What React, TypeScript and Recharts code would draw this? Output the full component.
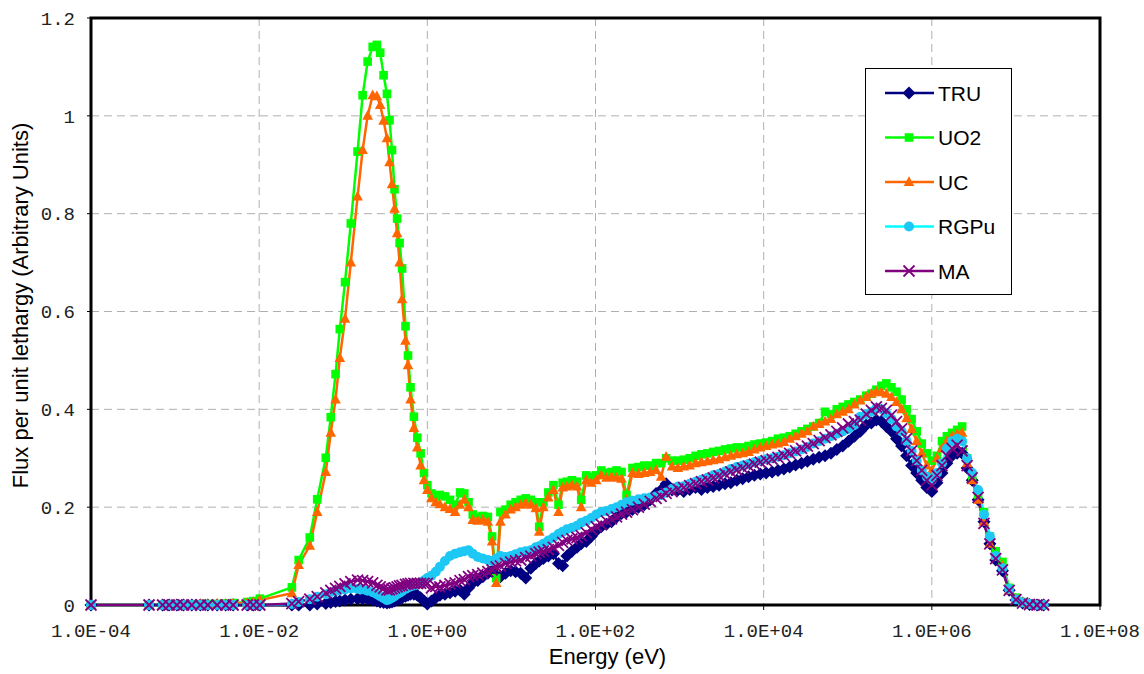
import React from "react";
import { LineChart, Line, XAxis, YAxis, CartesianGrid, ReferenceArea } from "recharts";

// neutron energy group grid (eV), shared by all five spectra
const energy = [
  1e-4, 4.9e-4, 7.1e-4, 8.5e-4, 1.05e-3, 1.26e-3, 1.58e-3, 2.0e-3, 2.45e-3, 3.16e-3, 4.0e-3, 4.9e-3, 7.2e-3, 8.5e-3, 1.02e-2,
  0.0245, 0.0295, 0.04, 0.049, 0.062, 0.071, 0.081, 0.091, 0.105, 0.123, 0.148, 0.17, 0.195, 0.224, 0.251, 0.275, 0.302, 0.331,
  0.355, 0.38, 0.407, 0.437, 0.468, 0.501, 0.55, 0.589, 0.631, 0.692, 0.759, 0.832, 0.912,
  1.0, 1.12, 1.26, 1.41, 1.62, 1.86, 2.14, 2.45, 2.75, 3.09, 3.47, 3.98, 4.57, 5.25, 5.89, 6.6, 7.4, 8.5, 9.8, 11.2,
  12.9, 14.8, 17.0, 19.5, 21.4, 24, 27.5, 31.6, 36.3, 40.7, 45.7, 52.5, 60.3, 67.6, 77.6, 89, 102, 117, 135, 155,
  178, 204, 234, 275, 324, 380, 447, 525, 603, 692, 813, 955,
  1120, 1320, 1550, 1820, 2140, 2510, 2950, 3470, 4070, 4790, 5620, 6610, 7760, 9120, 10700, 12600, 14800, 17400, 20400, 24000,
  28200, 33100, 38900, 45700, 53700, 63100, 74100, 87100, 102000, 120000, 141000, 166000, 191000, 219000, 251000, 288000,
  331000, 380000, 437000, 501000, 575000, 661000, 759000, 871000,
  1.0e6, 1.15e6, 1.32e6, 1.51e6, 1.74e6, 2.0e6, 2.29e6, 2.63e6, 3.02e6, 3.55e6, 4.17e6, 4.9e6, 5.75e6, 6.92e6, 8.32e6,
  1.0e7, 1.2e7, 1.45e7, 1.78e7, 2.14e7,
];

const tru = [
  0, 0, 0, 0, 0, 0, 0, 0, 0, 0, 0, 0, 0, 0, 0,
  0, 0, 0, 0.002, 0.003, 0.005, 0.007, 0.008, 0.01, 0.012, 0.013, 0.013, 0.012, 0.01, 0.008, 0.006, 0.005, 0.004,
  0.005, 0.006, 0.008, 0.01, 0.012, 0.015, 0.018, 0.02, 0.022, 0.022, 0.02, 0.015, 0.008,
  0.002, 0.008, 0.015, 0.02, 0.022, 0.025, 0.028, 0.03, 0.022, 0.035, 0.045, 0.05, 0.058, 0.065, 0.07, 0.06, 0.058, 0.065, 0.07, 0.068,
  0.065, 0.055, 0.075, 0.085, 0.09, 0.095, 0.1, 0.105, 0.085, 0.08, 0.1, 0.11, 0.118, 0.125, 0.13, 0.14, 0.152, 0.16, 0.165, 0.17,
  0.18, 0.187, 0.19, 0.195, 0.2, 0.205, 0.215, 0.228, 0.235, 0.248, 0.235, 0.235,
  0.232, 0.236, 0.24, 0.236, 0.24, 0.242, 0.245, 0.248, 0.25, 0.255, 0.258, 0.262, 0.265, 0.268, 0.27, 0.272, 0.275, 0.278, 0.282, 0.286,
  0.29, 0.294, 0.298, 0.302, 0.305, 0.31, 0.318, 0.325, 0.335, 0.345, 0.355, 0.368, 0.372, 0.378, 0.375, 0.365,
  0.355, 0.34, 0.325, 0.305, 0.285, 0.27, 0.255, 0.24,
  0.232, 0.25, 0.27, 0.29, 0.305, 0.31, 0.31, 0.28, 0.255, 0.215, 0.17, 0.125, 0.092, 0.07, 0.03,
  0.01, 0.004, 0.001, 0, 0,
];

const uo2 = [
  0, 0, 0, 0, 0, 0, 0.001, 0.001, 0.002, 0.002, 0.003, 0.004, 0.006, 0.008, 0.013,
  0.036, 0.092, 0.138, 0.216, 0.301, 0.384, 0.472, 0.564, 0.66, 0.78, 0.927, 1.042, 1.111, 1.141, 1.145, 1.129, 1.083, 1.045,
  0.991, 0.93, 0.85, 0.79, 0.74, 0.688, 0.57, 0.51, 0.445, 0.385, 0.342, 0.31, 0.27,
  0.245, 0.228, 0.222, 0.225, 0.222, 0.215, 0.205, 0.23, 0.228, 0.21, 0.185, 0.18, 0.182, 0.18, 0.14, 0.055, 0.19, 0.195, 0.205, 0.21,
  0.215, 0.218, 0.215, 0.21, 0.16, 0.21, 0.23, 0.245, 0.205, 0.25, 0.252, 0.255, 0.252, 0.215, 0.265, 0.262, 0.265, 0.275, 0.27, 0.272,
  0.275, 0.272, 0.225, 0.28, 0.282, 0.285, 0.285, 0.29, 0.29, 0.3, 0.295, 0.295,
  0.297, 0.3, 0.305, 0.308, 0.31, 0.313, 0.315, 0.318, 0.32, 0.322, 0.322, 0.325, 0.328, 0.33, 0.332, 0.335, 0.34, 0.342, 0.345, 0.35,
  0.355, 0.36, 0.365, 0.372, 0.395, 0.39, 0.4, 0.405, 0.41, 0.415, 0.42, 0.428, 0.432, 0.44, 0.448, 0.453,
  0.445, 0.436, 0.42, 0.4, 0.38, 0.355, 0.33, 0.31,
  0.295, 0.305, 0.335, 0.345, 0.352, 0.358, 0.365, 0.3, 0.26, 0.225, 0.19, 0.14, 0.11, 0.088, 0.035,
  0.015, 0.006, 0.002, 0.001, 0,
];

const uc = [
  0, 0, 0, 0, 0, 0, 0, 0.001, 0.001, 0.002, 0.002, 0.003, 0.004, 0.006, 0.01,
  0.024, 0.082, 0.121, 0.19, 0.272, 0.352, 0.42, 0.505, 0.585, 0.7, 0.835, 0.93, 1.0, 1.042, 1.04, 1.022, 0.99, 0.954,
  0.905, 0.86, 0.81, 0.76, 0.7, 0.625, 0.54, 0.49, 0.42, 0.362, 0.322, 0.285, 0.255,
  0.235, 0.218, 0.21, 0.206, 0.2, 0.196, 0.19, 0.205, 0.215, 0.2, 0.174, 0.172, 0.174, 0.17, 0.13, 0.045, 0.17, 0.185, 0.195, 0.2,
  0.205, 0.208, 0.205, 0.198, 0.15, 0.2, 0.22, 0.235, 0.19, 0.24, 0.242, 0.245, 0.242, 0.2, 0.255, 0.25, 0.255, 0.265, 0.26, 0.262,
  0.26, 0.258, 0.215, 0.27, 0.268, 0.27, 0.272, 0.276, 0.262, 0.303, 0.283, 0.28,
  0.283, 0.285, 0.29, 0.292, 0.294, 0.296, 0.298, 0.302, 0.305, 0.308, 0.31, 0.313, 0.318, 0.322, 0.325, 0.328, 0.33, 0.333, 0.34, 0.345,
  0.35, 0.355, 0.365, 0.37, 0.375, 0.38, 0.39, 0.395, 0.4, 0.41, 0.418, 0.425, 0.432, 0.436, 0.435, 0.432,
  0.425, 0.415, 0.4, 0.382, 0.36, 0.335, 0.31, 0.285,
  0.275, 0.3, 0.32, 0.335, 0.345, 0.35, 0.352, 0.29, 0.255, 0.215, 0.17, 0.125, 0.1, 0.08, 0.03,
  0.013, 0.005, 0.002, 0, 0,
];

const rgpu = [
  0, 0, 0, 0, 0, 0, 0, 0, 0, 0, 0, 0, 0, 0, 0,
  0.002, 0.006, 0.012, 0.017, 0.022, 0.026, 0.028, 0.03, 0.032, 0.034, 0.033, 0.032, 0.029, 0.026, 0.022, 0.018, 0.014, 0.01,
  0.012, 0.015, 0.018, 0.022, 0.025, 0.028, 0.033, 0.036, 0.038, 0.04, 0.042, 0.046, 0.05,
  0.055, 0.06, 0.068, 0.078, 0.09, 0.1, 0.105, 0.108, 0.11, 0.112, 0.105, 0.098, 0.095, 0.092, 0.09, 0.095, 0.1, 0.098, 0.1, 0.104,
  0.108, 0.11, 0.112, 0.118, 0.12, 0.125, 0.132, 0.138, 0.145, 0.15, 0.155, 0.158, 0.162, 0.168, 0.172, 0.178, 0.185, 0.19, 0.192, 0.196,
  0.2, 0.205, 0.21, 0.213, 0.216, 0.218, 0.22, 0.222, 0.225, 0.23, 0.237, 0.242,
  0.243, 0.248, 0.252, 0.256, 0.26, 0.265, 0.268, 0.273, 0.278, 0.282, 0.285, 0.288, 0.292, 0.295, 0.298, 0.3, 0.303, 0.306, 0.31, 0.314,
  0.318, 0.323, 0.33, 0.335, 0.34, 0.345, 0.35, 0.355, 0.36, 0.368, 0.385, 0.39, 0.395, 0.402, 0.4, 0.392,
  0.38, 0.365, 0.355, 0.335, 0.315, 0.295, 0.275, 0.262,
  0.255, 0.27, 0.29, 0.32, 0.335, 0.34, 0.335, 0.3, 0.27, 0.235, 0.185, 0.14, 0.1, 0.075, 0.033,
  0.012, 0.005, 0.002, 0, 0,
];

const ma = [
  0, 0, 0, 0, 0, 0, 0, 0, 0, 0, 0, 0, 0, 0, 0,
  0.003, 0.007, 0.012, 0.017, 0.025, 0.03, 0.034, 0.038, 0.043, 0.048, 0.051, 0.05, 0.048, 0.045, 0.04, 0.037, 0.034, 0.031,
  0.031, 0.033, 0.035, 0.037, 0.039, 0.04, 0.042, 0.043, 0.044, 0.044, 0.044, 0.044, 0.044,
  0.044, 0.035, 0.038, 0.037, 0.04, 0.043, 0.045, 0.05, 0.052, 0.058, 0.06, 0.062, 0.065, 0.068, 0.072, 0.078, 0.08, 0.085, 0.088, 0.09,
  0.092, 0.097, 0.1, 0.105, 0.108, 0.11, 0.113, 0.118, 0.122, 0.128, 0.132, 0.135, 0.138, 0.142, 0.148, 0.155, 0.16, 0.165, 0.172, 0.176,
  0.18, 0.186, 0.19, 0.195, 0.2, 0.206, 0.212, 0.218, 0.222, 0.228, 0.232, 0.237,
  0.24, 0.244, 0.248, 0.252, 0.256, 0.26, 0.264, 0.268, 0.272, 0.276, 0.28, 0.284, 0.288, 0.292, 0.295, 0.298, 0.302, 0.306, 0.31, 0.315,
  0.32, 0.325, 0.33, 0.336, 0.342, 0.348, 0.355, 0.362, 0.37, 0.375, 0.378, 0.39, 0.398, 0.405, 0.402, 0.398,
  0.388, 0.375, 0.36, 0.34, 0.315, 0.295, 0.275, 0.255,
  0.245, 0.265, 0.285, 0.305, 0.32, 0.327, 0.315, 0.285, 0.26, 0.22, 0.167, 0.125, 0.095, 0.072, 0.03,
  0.011, 0.004, 0.001, 0, 0,
];

const xTicks = [1e-4, 1e-2, 1, 1e2, 1e4, 1e6, 1e8];
const yTicks = [0, 0.2, 0.4, 0.6, 0.8, 1, 1.2];

const data = energy.map((e, i) => ({ e, tru: tru[i], uo2: uo2[i], uc: uc[i], rgpu: rgpu[i], ma: ma[i] }));

function fmtE(v: number) {
  const exp = Math.round(Math.log10(v));
  const sign = exp < 0 ? "-" : "+";
  return `1.0E${sign}${String(Math.abs(exp)).padStart(2, "0")}`;
}

type MarkProps = { cx: number; cy: number; kind: string };

function Marker({ cx, cy, kind }: MarkProps) {
  if (kind === "diamond")
    return <polygon points={`${cx},${cy - 6.5} ${cx + 6.5},${cy} ${cx},${cy + 6.5} ${cx - 6.5},${cy}`} fill="#000080" />;
  if (kind === "square") return <rect x={cx - 4.3} y={cy - 4.3} width={8.6} height={8.6} fill="#00FF00" />;
  if (kind === "triangle")
    return <polygon points={`${cx},${cy - 5.8} ${cx + 5.3},${cy + 4} ${cx - 5.3},${cy + 4}`} fill="#FF6600" />;
  if (kind === "circle") return <circle cx={cx} cy={cy} r={5} fill="#1EC8F5" />;
  return (
    <g stroke="#800080" strokeWidth={1.8}>
      <line x1={cx - 5.5} y1={cy - 5.5} x2={cx + 5.5} y2={cy + 5.5} />
      <line x1={cx - 5.5} y1={cy + 5.5} x2={cx + 5.5} y2={cy - 5.5} />
    </g>
  );
}

const series = [
  { key: "tru", name: "TRU", color: "#000080", mark: "diamond" },
  { key: "uo2", name: "UO2", color: "#00FF00", mark: "square" },
  { key: "uc", name: "UC", color: "#FF6600", mark: "triangle" },
  { key: "rgpu", name: "RGPu", color: "#00FFFF", mark: "circle" },
  { key: "ma", name: "MA", color: "#800080", mark: "x" },
];

function LegendBox() {
  return (
    <svg width={148} height={228} style={{ position: "absolute", left: 865, top: 68 }}>
      <rect x={0.5} y={0.5} width={146} height={226} fill="#fff" stroke="#000" strokeWidth={1} />
      {series.map((s, i) => {
        const y = 25 + i * 44.5;
        return (
          <g key={s.key}>
            <line x1={20} y1={y} x2={69} y2={y} stroke={s.color} strokeWidth={2.5} />
            <Marker cx={44} cy={y} kind={s.mark} />
            <text x={73} y={y + 7.5} fontFamily="Liberation Sans, Arial" fontSize={21} fill="#000">
              {s.name}
            </text>
          </g>
        );
      })}
    </svg>
  );
}

export default function App() {
  return (
    <div style={{ position: "absolute", left: 0, top: 0, width: 1144, height: 674, background: "#fff" }}>
      <LineChart width={1144} height={674} data={data} margin={{ top: 18, right: 44, bottom: 0, left: 0 }}>
        <CartesianGrid stroke="#b0b0b0" strokeDasharray="8 5" />
        <XAxis
          dataKey="e"
          type="number"
          scale="log"
          domain={[1e-4, 1e8]}
          ticks={xTicks}
          tickFormatter={fmtE}
          height={69}
          axisLine={false}
          tickSize={5}
          tickLine={{ stroke: "#000" }}
          tickMargin={14}
          tick={{ fill: "#222", fontFamily: "Liberation Mono, Courier New", fontSize: 19 }}
          label={{ value: "Energy (eV)", position: "insideBottom", offset: 10, dx: 12, style: { fill: "#000", fontFamily: "Liberation Sans, Arial", fontSize: 22 } }}
        />
        <YAxis
          type="number"
          domain={[0, 1.2]}
          ticks={yTicks}
          width={91}
          axisLine={false}
          tickSize={4}
          tickLine={{ stroke: "#000" }}
          tickMargin={12}
          tick={{ fill: "#222", fontFamily: "Liberation Mono, Courier New", fontSize: 19 }}
          label={{ value: "Flux per unit lethargy (Arbitrary Units)", angle: -90, position: "insideLeft", offset: 20, dy: -6, style: { textAnchor: "middle", fill: "#000", fontFamily: "Liberation Sans, Arial", fontSize: 22 } }}
        />
        <ReferenceArea x1={1e-4} x2={1e8} y1={0} y2={1.2} fill="none" stroke="#000" strokeWidth={3} />
        {series.map((s) => (
          <Line
            key={s.key}
            dataKey={s.key}
            name={s.name}
            stroke={s.color}
            strokeWidth={2.5}
            isAnimationActive={false}
            dot={(p: any) => <Marker key={`${s.key}-${p.index}`} cx={p.cx} cy={p.cy} kind={s.mark} />}
            activeDot={false}
          />
        ))}
      </LineChart>
      <LegendBox />
    </div>
  );
}
